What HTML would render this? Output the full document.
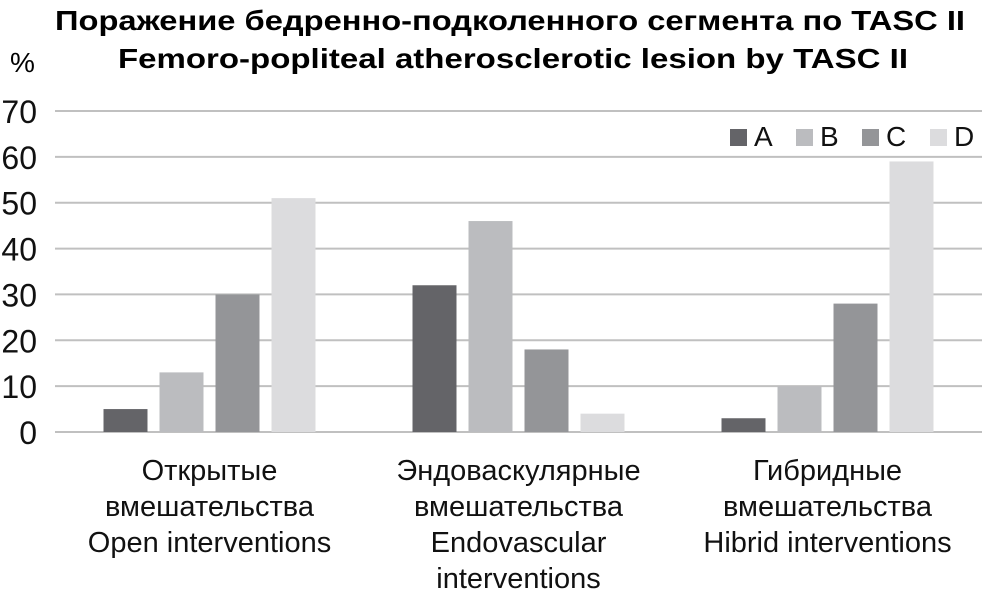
<!DOCTYPE html>
<html><head><meta charset="utf-8"><style>
body{margin:0;background:#fff}
svg{display:block;font-family:"Liberation Sans",sans-serif}
</style></head><body>
<svg id="chart" width="983" height="608" viewBox="0 0 983 608">
<text x="510" y="30" text-anchor="middle" font-size="28" font-weight="bold" textLength="910" lengthAdjust="spacingAndGlyphs">Поражение бедренно-подколенного сегмента по TASC II</text>
<text x="513" y="68" text-anchor="middle" font-size="28" font-weight="bold" textLength="790" lengthAdjust="spacingAndGlyphs">Femoro-popliteal atherosclerotic lesion by TASC II</text>
<text x="10" y="72" font-size="28">%</text>
<g id="grid"></g><g id="bars"></g><g id="legend"></g><g id="xlabels"></g>
</svg>
<script>
const categories=[["Открытые","вмешательства","Open  interventions"],["Эндоваскулярные","вмешательства","Endovascular","interventions"],["Гибридные","вмешательства","Hibrid  interventions"]];
const seriesNames=["A","B","C","D"];
const seriesA=[5,32,3];
const seriesB=[13,46,10];
const seriesC=[30,18,28];
const seriesD=[51,4,59];
const yTicks=[0,10,20,30,40,50,60,70];
const colors=["#646468","#bbbcbf","#949598","#dcdcde"];
const NS="http://www.w3.org/2000/svg";
const x0=55,x1=982,y0=432,yTop=111,yMax=70;
const y=v=>y0-(v/yMax)*(y0-yTop);
const bandW=(x1-x0)/categories.length;
const bandX=i=>x0+bandW*i;
function mk(t,a,p){const e=document.createElementNS(NS,t);for(const k in a)e.setAttribute(k,a[k]);p.appendChild(e);return e;}
const grid=document.getElementById('grid');
yTicks.forEach(t=>{
 const l=mk('line',{x1:x0,x2:x1,y1:y(t),y2:y(t),stroke:'#c0c0c0','stroke-width':2},grid);
 
 
 const tx=mk('text',{x:37,y:y(t)+12,'text-anchor':'end','font-size':32,fill:'#111'},grid);
 tx.textContent=t;
 
 
});
const series=[seriesA,seriesB,seriesC,seriesD];
const bars=document.getElementById('bars');
const bw=44,step=56;
categories.forEach((c,i)=>{
 const cx=bandX(i)+bandW/2;
 series.forEach((s,j)=>{
  const bx=cx-2*step+6+j*step;
  const r=mk('rect',{x:bx,y:y(s[i]),width:bw,height:y0-y(s[i]),fill:colors[j]},bars);
  
  
 });
 c.forEach((ln,k)=>{
  const t=mk('text',{x:cx,y:480+k*36,'text-anchor':'middle','font-size':29,fill:'#111'},document.getElementById('xlabels'));
  t.textContent=ln;
  
  
 });
});
const lg=document.getElementById('legend');
const lx=[730,796,862,930];
seriesNames.forEach((n,j)=>{
 const g=mk('g',{},lg);
 
 
 mk('rect',{x:lx[j],y:129,width:17,height:17,fill:colors[j]},g);
 const t=mk('text',{x:lx[j]+24,y:146,'font-size':28,fill:'#111'},g);
 t.textContent=n;
});
</script>
</body></html>
